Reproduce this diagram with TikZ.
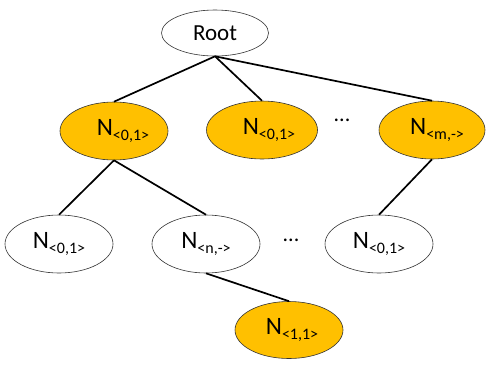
\documentclass[tikz,border=0pt]{standalone}
\usepackage{fontspec}
\setmainfont{Carlito}
\usetikzlibrary{shapes.geometric}
\definecolor{gold}{HTML}{FFC000}
\newcommand{\Nsub}[1]{{\fontsize{25}{28}\selectfont N}\raisebox{-5pt}{\fontsize{16}{18}\selectfont #1}}
\tikzset{
  tnode/.style={ellipse, draw=black!80, line width=0.6pt, minimum width=108pt, minimum height=58pt, inner sep=0pt},
  goldnode/.style={tnode, fill=gold},
  whitenode/.style={tnode, fill=white},
  edge/.style={line width=1.7pt, black},
  dotsnode/.style={font=\fontsize{22}{24}\selectfont, inner sep=0pt}
}
\begin{document}
\begin{tikzpicture}[x=1pt,y=-1pt]
\useasboundingbox (0,0) rectangle (486,365);
\node[whitenode, minimum width=107pt, minimum height=46pt] (root) at (215,33) {\fontsize{23}{26}\selectfont Root};
\node[goldnode] (a) at (114,131) {\hspace{18pt}\Nsub{<0,1>}};
\node[goldnode, minimum width=111pt] (b) at (262,130) {\hspace{14pt}\Nsub{<0,1>}};
\node[goldnode, minimum width=106pt] (c) at (432,130) {\hspace{10pt}\Nsub{<m,->}};
\node[whitenode] (d) at (59,244) {\Nsub{<0,1>}};
\node[whitenode] (e) at (206,244) {\Nsub{<n,->}};
\node[whitenode] (f) at (379,244) {\Nsub{<0,1>}};
\node[goldnode, minimum height=57pt] (g) at (289,330) {\hspace{6pt}\Nsub{<1,1>}};
\node[dotsnode] (dots1) at (342,120) {...};
\node[dotsnode] (dots2) at (291,240) {...};
\draw[edge] (root.south) -- (a.north);
\draw[edge] (root.south) -- (b.north);
\draw[edge] (root.south) -- (c.north);
\draw[edge] (a.south) -- (d.north);
\draw[edge] (a.south) -- (e.north);
\draw[edge] (c.south) -- (f.north);
\draw[edge] (e.south) -- (g.north);
\end{tikzpicture}
\end{document}
